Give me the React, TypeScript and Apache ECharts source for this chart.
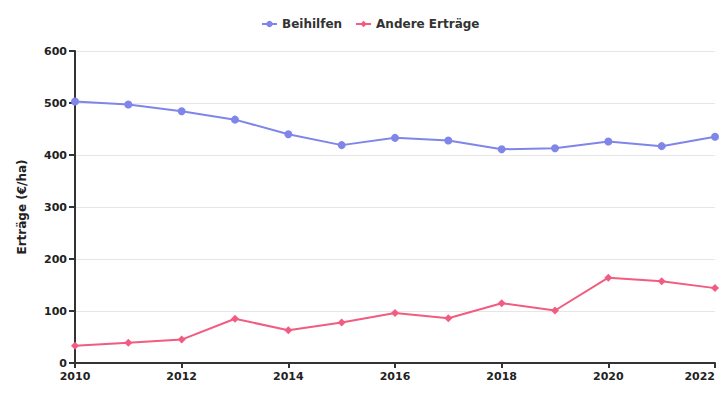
import React, { useEffect, useRef } from "react";
import * as echarts from "echarts";

const years = [2010, 2011, 2012, 2013, 2014, 2015, 2016, 2017, 2018, 2019, 2020, 2021, 2022];
const beihilfen = [503, 497, 484, 468, 440, 419, 433, 428, 411, 413, 426, 417, 435];
const andereErtraege = [33, 39, 45, 85, 63, 78, 96, 86, 115, 101, 164, 157, 144];
const seriesNames = ["Beihilfen", "Andere Erträge"];
const yAxisTitle = "Erträge (€/ha)";

const FONT = "DejaVu Sans";

export default function App() {
  const ref = useRef<HTMLDivElement>(null);
  useEffect(() => {
    if (!ref.current) return;
    const chart = echarts.init(ref.current, undefined, { renderer: "svg" });
    chart.setOption({
      animation: false,
      textStyle: { fontFamily: FONT },
      legend: {
        top: 18,
        left: 261,
        padding: 0,
        itemGap: 13,
        itemWidth: 15,
        itemHeight: 8,
        textStyle: { fontFamily: FONT, fontWeight: "bold", fontSize: 12, color: "#333" },
        data: seriesNames,
      },
      grid: { left: 75, right: 10, top: 51, bottom: 37, containLabel: false, outerBoundsMode: "none" },
      xAxis: {
        type: "value",
        min: 2010,
        max: 2022,
        interval: 2,
        axisLine: { show: true, lineStyle: { color: "#333", width: 2 } },
        axisTick: { show: true, length: 5, lineStyle: { color: "#333", width: 2 } },
        splitLine: { show: false },
        axisLabel: {
          formatter: (v: number) => String(v),
          fontFamily: FONT,
          fontWeight: "bold",
          fontSize: 11,
          color: "#222",
          margin: 8,
          alignMaxLabel: "right",
        },
      },
      yAxis: {
        type: "value",
        min: 0,
        max: 600,
        interval: 100,
        name: yAxisTitle,
        nameLocation: "middle",
        nameGap: 47,
        nameTextStyle: { fontFamily: FONT, fontWeight: "bold", fontSize: 12, color: "#222" },
        axisLine: { show: true, lineStyle: { color: "#333", width: 2 } },
        axisTick: { show: true, length: 6, lineStyle: { color: "#333", width: 2 } },
        splitLine: { show: true, lineStyle: { color: "#e6e6e6", width: 1 } },
        axisLabel: {
          fontFamily: FONT,
          fontWeight: "bold",
          fontSize: 11,
          color: "#222",
          margin: 8,
        },
      },
      series: [
        {
          name: seriesNames[0],
          type: "line",
          data: years.map((y, i) => [y, beihilfen[i]]),
          symbol: "circle",
          symbolSize: 8,
          lineStyle: { width: 2, color: "#8085e9" },
          itemStyle: { color: "#8085e9" },
        },
        {
          name: seriesNames[1],
          type: "line",
          data: years.map((y, i) => [y, andereErtraege[i]]),
          symbol: "diamond",
          symbolSize: 8,
          lineStyle: { width: 2, color: "#f15c80" },
          itemStyle: { color: "#f15c80" },
        },
      ],
    });
    return () => chart.dispose();
  }, []);
  return <div ref={ref} style={{ width: 725, height: 400, position: "absolute", left: 0, top: 0 }} />;
}
